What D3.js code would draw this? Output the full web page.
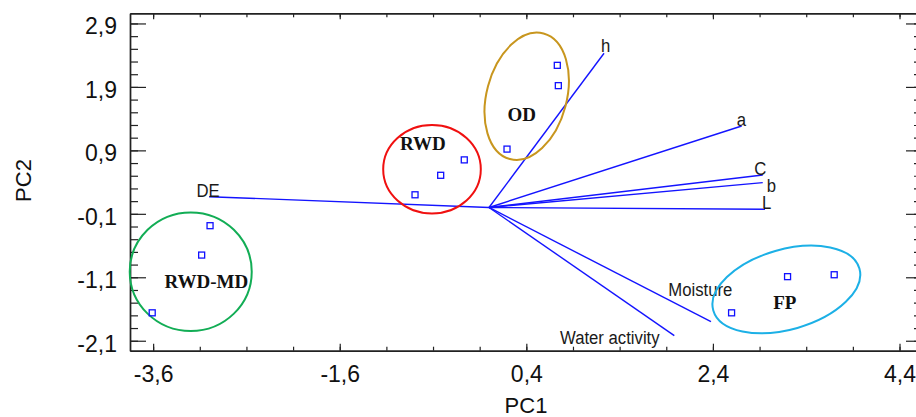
<!DOCTYPE html>
<html>
<head>
<meta charset="utf-8">
<script src="https://cdn.jsdelivr.net/npm/d3@7"></script>
<style>
  body { margin: 0; background: #fff; }
  svg { display: block; }
</style>
</head>
<body>
<div id="chart"></div>
<script>
// Scores (PC1, PC2) of the samples, by group
const groups = ['RWD-MD', 'RWD', 'OD', 'FP'];
const sampleGroup = ['RWD-MD', 'RWD-MD', 'RWD-MD', 'RWD', 'RWD', 'RWD', 'OD', 'OD', 'OD', 'FP', 'FP', 'FP'];
const samplePC1 = [-2.99, -3.08, -3.61, -0.265, -0.518, -0.793, 0.732, 0.743, 0.193, 3.20, 3.70, 2.60];
const samplePC2 = [-0.287, -0.75, -1.66, 0.75, 0.507, 0.20, 2.24, 1.92, 0.92, -1.09, -1.06, -1.66];

// Loadings (vectors from origin)
const variables = ['DE', 'h', 'a', 'C', 'b', 'L', 'Moisture', 'Water activity'];
const loadPC1 = [-3.00, 1.233, 2.708, 2.934, 2.934, 2.958, 2.379, 1.986];
const loadPC2 = [0.17, 2.43, 1.284, 0.512, 0.391, -0.028, -1.80, -2.02];

// Group ellipse centres (PC1, PC2)
const groupCenterPC1 = [-3.197, -0.611, 0.404, 3.187];
const groupCenterPC2 = [-1.012, 0.602, 1.752, -1.292];
const groupLabelPC1 = [-3.03, -0.71, 0.35, 3.17];
const groupLabelPC2 = [-1.27, 0.90, 1.37, -1.60];

// Axis ticks
const xTickLabels = [-3.6, -1.6, 0.4, 2.4, 4.4];
const yTickLabels = [-2.1, -1.1, -0.1, 0.9, 1.9, 2.9];

// layout / style
const width = 916, height = 417;
const ellipseStyle = {
  'RWD-MD': { rx: 61, ry: 59.3, rot: 0, color: '#12ad55' },
  'RWD':    { rx: 48.8, ry: 44.2, rot: 0, color: '#f01010' },
  'OD':     { rx: 40, ry: 65, rot: 15, color: '#c8961e' },
  'FP':     { rx: 76, ry: 40, rot: -16, color: '#1cb0e6' }
};
// label offsets from the arrow tips, pixels
const varLabelOffset = {
  'DE': [-12.6, 0.5], 'h': [-3, -1], 'a': [-5, 0], 'C': [-8.5, 0],
  'b': [4, 9], 'L': [-3, 0], 'Moisture': [-42.7, -26], 'Water activity': [-114.3, 8.3]
};

const fmt = v => v.toFixed(1).replace('.', ',');
const sans = 'Arial, "Liberation Sans", sans-serif';

let svg = d3.select('#chart')
  .append('svg')
  .attr('width', width)
  .attr('height', height);

let x = d3.scaleLinear().domain([-3.848, 4.641]).range([130, 922]);
let y = d3.scaleLinear().domain([-2.257, 3.06]).range([350.7, 13.3]);

const xMinor = d3.range(0, 17).map(i => -3.6 + i * 0.5);
const yMinor = d3.range(0, 26).map(i => -2.1 + i * 0.2);

const axisColor = '#222';

function styleAxis(g) {
  g.selectAll('path.domain').attr('stroke', axisColor).attr('stroke-width', 1.4);
  g.selectAll('.tick line').attr('stroke', axisColor).attr('stroke-width', 1.2);
}

// bottom
svg.append('g').attr('transform', `translate(0,${y.range()[0]})`)
  .call(d3.axisBottom(x).tickValues(xMinor).tickSizeInner(-4).tickSizeOuter(0).tickFormat(''))
  .call(styleAxis);
svg.append('g').attr('transform', `translate(0,${y.range()[0]})`)
  .call(d3.axisBottom(x).tickValues(xTickLabels).tickSizeInner(-7).tickSizeOuter(0).tickPadding(15).tickFormat(fmt))
  .call(styleAxis)
  .call(g => g.selectAll('text').attr('font-family', sans)
    .attr('font-size', 23).attr('fill', '#111'));

// top
svg.append('g').attr('transform', `translate(0,${y.range()[1]})`)
  .call(d3.axisTop(x).tickValues(xMinor).tickSizeInner(-4).tickSizeOuter(0).tickFormat(''))
  .call(styleAxis);
svg.append('g').attr('transform', `translate(0,${y.range()[1]})`)
  .call(d3.axisTop(x).tickValues(xTickLabels).tickSizeInner(-6).tickSizeOuter(0).tickFormat(''))
  .call(styleAxis);

// left
svg.append('g').attr('transform', `translate(${x.range()[0]},0)`)
  .call(d3.axisLeft(y).tickValues(yMinor).tickSizeInner(-8).tickSizeOuter(0).tickFormat(''))
  .call(styleAxis);
svg.append('g').attr('transform', `translate(${x.range()[0]},0)`)
  .call(d3.axisLeft(y).tickValues(yTickLabels).tickSizeInner(-16).tickSizeOuter(0).tickPadding(13).tickFormat(fmt))
  .call(styleAxis)
  .call(g => g.selectAll('text').attr('font-family', sans)
    .attr('font-size', 23).attr('fill', '#111').attr('dy', '0.45em'));

// right
svg.append('g').attr('transform', `translate(${x.range()[1]},0)`)
  .call(d3.axisRight(y).tickValues(yMinor).tickSizeInner(-8).tickSizeOuter(0).tickFormat(''))
  .call(styleAxis);
svg.append('g').attr('transform', `translate(${x.range()[1]},0)`)
  .call(d3.axisRight(y).tickValues(yTickLabels).tickSizeInner(-16).tickSizeOuter(0).tickFormat(''))
  .call(styleAxis);

// axis titles
svg.append('text')
  .attr('x', 526).attr('y', 413)
  .attr('text-anchor', 'middle')
  .attr('font-family', sans)
  .attr('font-size', 22).attr('fill', '#111')
  .text('PC1');
svg.append('text')
  .attr('transform', 'translate(31,180.5) rotate(-90)')
  .attr('text-anchor', 'middle')
  .attr('font-family', sans)
  .attr('font-size', 22).attr('fill', '#111')
  .text('PC2');

// loading vectors
const vecColor = '#1414ff';
let vectors = svg.append('g');
vectors.selectAll('line')
  .data(variables)
  .enter()
  .append('line')
  .attr('x1', x(0)).attr('y1', y(0))
  .attr('x2', (d, i) => x(loadPC1[i]))
  .attr('y2', (d, i) => y(loadPC2[i]))
  .attr('stroke', vecColor)
  .attr('stroke-width', 1.4);
vectors.selectAll('text')
  .data(variables)
  .enter()
  .append('text')
  .attr('transform', (d, i) => `translate(${x(loadPC1[i]) + varLabelOffset[d][0]},${y(loadPC2[i]) + varLabelOffset[d][1]}) scale(0.88,1)`)
  .attr('font-family', sans)
  .attr('font-size', 19)
  .attr('fill', '#1a1a1a')
  .text(d => d);

// group ellipses
let ell = svg.append('g');
ell.selectAll('ellipse')
  .data(groups)
  .enter()
  .append('ellipse')
  .attr('transform', (d, i) => `translate(${x(groupCenterPC1[i])},${y(groupCenterPC2[i])}) rotate(${ellipseStyle[d].rot})`)
  .attr('rx', d => ellipseStyle[d].rx)
  .attr('ry', d => ellipseStyle[d].ry)
  .attr('fill', 'none')
  .attr('stroke', d => ellipseStyle[d].color)
  .attr('stroke-width', 2);
ell.selectAll('text')
  .data(groups)
  .enter()
  .append('text')
  .attr('x', (d, i) => x(groupLabelPC1[i]))
  .attr('y', (d, i) => y(groupLabelPC2[i]))
  .attr('text-anchor', 'middle')
  .attr('font-family', '"Times New Roman", "Liberation Serif", serif')
  .attr('font-weight', 'bold')
  .attr('font-size', 19)
  .attr('fill', '#111')
  .text(d => d);

// sample points
svg.append('g')
  .selectAll('rect')
  .data(samplePC1)
  .enter()
  .append('rect')
  .attr('x', (d, i) => x(d) - 3)
  .attr('y', (d, i) => y(samplePC2[i]) - 3)
  .attr('width', 6)
  .attr('height', 6)
  .attr('fill', 'none')
  .attr('stroke', '#1010ff')
  .attr('stroke-width', 1.3);
</script>
</body>
</html>
